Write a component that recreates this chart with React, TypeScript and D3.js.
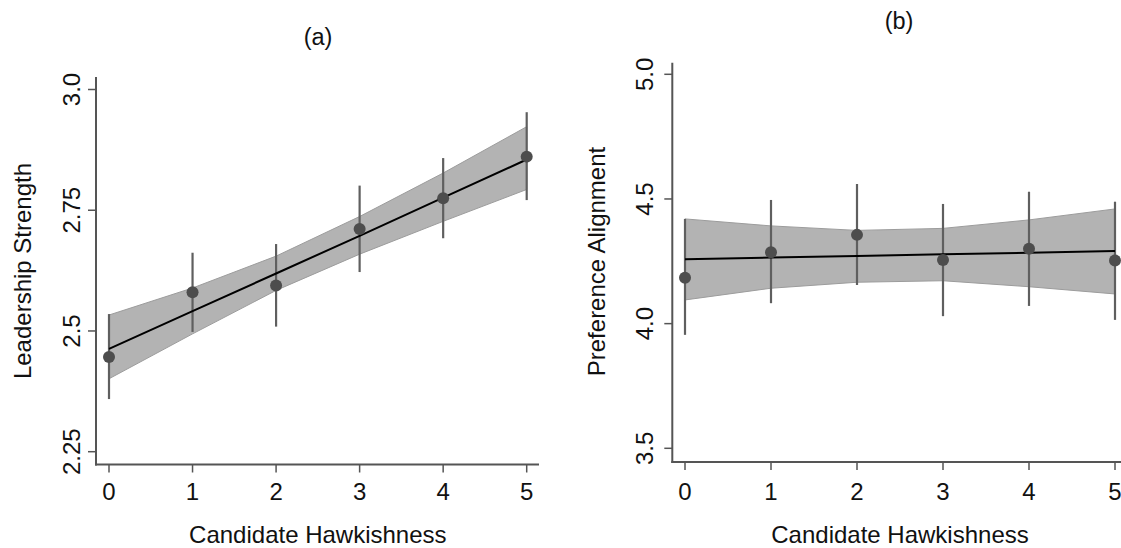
import React from "react";
import * as d3 from "d3";

const hawk = [0, 1, 2, 3, 4, 5];
const xTicks = [0, 1, 2, 3, 4, 5];

// Panel (a) Leadership Strength
const leadMean = [2.446, 2.58, 2.594, 2.711, 2.775, 2.861];
const leadLo = [2.359, 2.498, 2.509, 2.622, 2.692, 2.771];
const leadHi = [2.535, 2.662, 2.68, 2.801, 2.858, 2.953];
const leadFit = [2.463, 2.541, 2.619, 2.697, 2.776, 2.855];
const leadBandLo = [2.401, 2.494, 2.584, 2.659, 2.727, 2.793];
const leadBandHi = [2.533, 2.589, 2.655, 2.737, 2.827, 2.923];
const leadTicks = [2.25, 2.5, 2.75, 3.0];
const leadTickLabels = ["2.25", "2.5", "2.75", "3.0"];

// Panel (b) Preference Alignment
const prefMean = [4.184, 4.286, 4.356, 4.255, 4.3, 4.253];
const prefLo = [3.955, 4.082, 4.155, 4.03, 4.071, 4.015];
const prefHi = [4.42, 4.496, 4.56, 4.48, 4.529, 4.489];
const prefFit = [4.258, 4.265, 4.271, 4.278, 4.284, 4.291];
const prefBandLo = [4.095, 4.142, 4.166, 4.172, 4.148, 4.119];
const prefBandHi = [4.42, 4.392, 4.374, 4.382, 4.416, 4.46];
const prefTicks = [3.5, 4.0, 4.5, 5.0];
const prefTickLabels = ["3.5", "4.0", "4.5", "5.0"];

const FONT = "Arial, 'Liberation Sans', sans-serif";
const AXIS = "#555555";

type PanelProps = {
  title: string;
  titleX: number;
  titleY: number;
  yLabel: string;
  yLabelX: number;
  yLabelY: number;
  xRange: [number, number];
  yDomain: [number, number];
  yRange: [number, number];
  axisX: number;
  axisTop: number;
  axisY: number;
  axisRight: number;
  tickLabelX: number;
  mean: number[];
  lo: number[];
  hi: number[];
  fit: number[];
  bandLo: number[];
  bandHi: number[];
  yTicks: number[];
  yTickLabels: string[];
};

function Panel(p: PanelProps) {
  const x = d3.scaleLinear().domain([0, 5]).range(p.xRange);
  const y = d3.scaleLinear().domain(p.yDomain).range(p.yRange);
  const area = d3
    .area<number>()
    .x((d) => x(d))
    .y0((_, i) => y(p.bandLo[i]))
    .y1((_, i) => y(p.bandHi[i]));
  const line = d3
    .line<number>()
    .x((d) => x(d))
    .y((_, i) => y(p.fit[i]));
  const xCenter = (p.xRange[0] + p.xRange[1]) / 2;
  return (
    <g>
      <text x={p.titleX} y={p.titleY} fontSize={23.5} textAnchor="middle" fontFamily={FONT} fill="#111">
        {p.title}
      </text>
      <path d={area(hawk) || ""} fill="#b3b3b3" stroke="#9c9c9c" strokeWidth={1} />
      {hawk.map((h, i) => (
        <line key={"e" + i} x1={x(h)} x2={x(h)} y1={y(p.lo[i])} y2={y(p.hi[i])} stroke="#5f5f5f" strokeWidth={2.2} />
      ))}
      <path d={line(hawk) || ""} fill="none" stroke="#000" strokeWidth={2} />
      {hawk.map((h, i) => (
        <circle key={"c" + i} cx={x(h)} cy={y(p.mean[i])} r={6} fill="#4d4d4d" />
      ))}
      {/* y axis */}
      <line x1={p.axisX} x2={p.axisX} y1={p.axisTop} y2={p.axisY + 1} stroke={AXIS} strokeWidth={2} />
      {p.yTicks.map((t, i) => (
        <g key={"yt" + i}>
          <line x1={p.axisX - 8} x2={p.axisX} y1={y(t)} y2={y(t)} stroke={AXIS} strokeWidth={1.5} />
          <text
            transform={`translate(${p.tickLabelX},${y(t)}) rotate(-90)`}
            textAnchor="middle"
            fontSize={24}
            fontFamily={FONT}
            fill="#111"
          >
            {p.yTickLabels[i]}
          </text>
        </g>
      ))}
      {/* x axis */}
      <line x1={p.axisX - 1} x2={p.axisRight} y1={p.axisY} y2={p.axisY} stroke={AXIS} strokeWidth={2} />
      {xTicks.map((t) => (
        <g key={"xt" + t}>
          <line x1={x(t)} x2={x(t)} y1={p.axisY} y2={p.axisY + 8} stroke={AXIS} strokeWidth={1.5} />
          <text x={x(t)} y={500} textAnchor="middle" fontSize={24} fontFamily={FONT} fill="#111">
            {t}
          </text>
        </g>
      ))}
      <text x={xCenter} y={543} textAnchor="middle" fontSize={24} fontFamily={FONT} fill="#111">
        Candidate Hawkishness
      </text>
      <text
        transform={`translate(${p.yLabelX},${p.yLabelY}) rotate(-90)`}
        textAnchor="middle"
        fontSize={24}
        fontFamily={FONT}
        fill="#111"
      >
        {p.yLabel}
      </text>
    </g>
  );
}

export default function App() {
  return (
    <svg
      width={1121}
      height={548}
      style={{ position: "absolute", left: 0, top: 0, background: "#fff" }}
    >
      <rect width={1121} height={548} fill="#fff" />
      <Panel
        title="(a)"
        titleX={318}
        titleY={45}
        yLabel="Leadership Strength"
        yLabelX={30.5}
        yLabelY={271}
        xRange={[109, 526.7]}
        yDomain={[2.25, 3.0]}
        yRange={[451.7, 89.5]}
        axisX={96}
        axisTop={77}
        axisY={464.5}
        axisRight={539}
        tickLabelX={80}
        mean={leadMean}
        lo={leadLo}
        hi={leadHi}
        fit={leadFit}
        bandLo={leadBandLo}
        bandHi={leadBandHi}
        yTicks={leadTicks}
        yTickLabels={leadTickLabels}
      />
      <Panel
        title="(b)"
        titleX={899}
        titleY={29}
        yLabel="Preference Alignment"
        yLabelX={604.5}
        yLabelY={261.5}
        xRange={[685, 1115]}
        yDomain={[3.5, 5.0]}
        yRange={[448.3, 74.3]}
        axisX={672.3}
        axisTop={62.7}
        axisY={462}
        axisRight={1121}
        tickLabelX={653}
        mean={prefMean}
        lo={prefLo}
        hi={prefHi}
        fit={prefFit}
        bandLo={prefBandLo}
        bandHi={prefBandHi}
        yTicks={prefTicks}
        yTickLabels={prefTickLabels}
      />
    </svg>
  );
}
